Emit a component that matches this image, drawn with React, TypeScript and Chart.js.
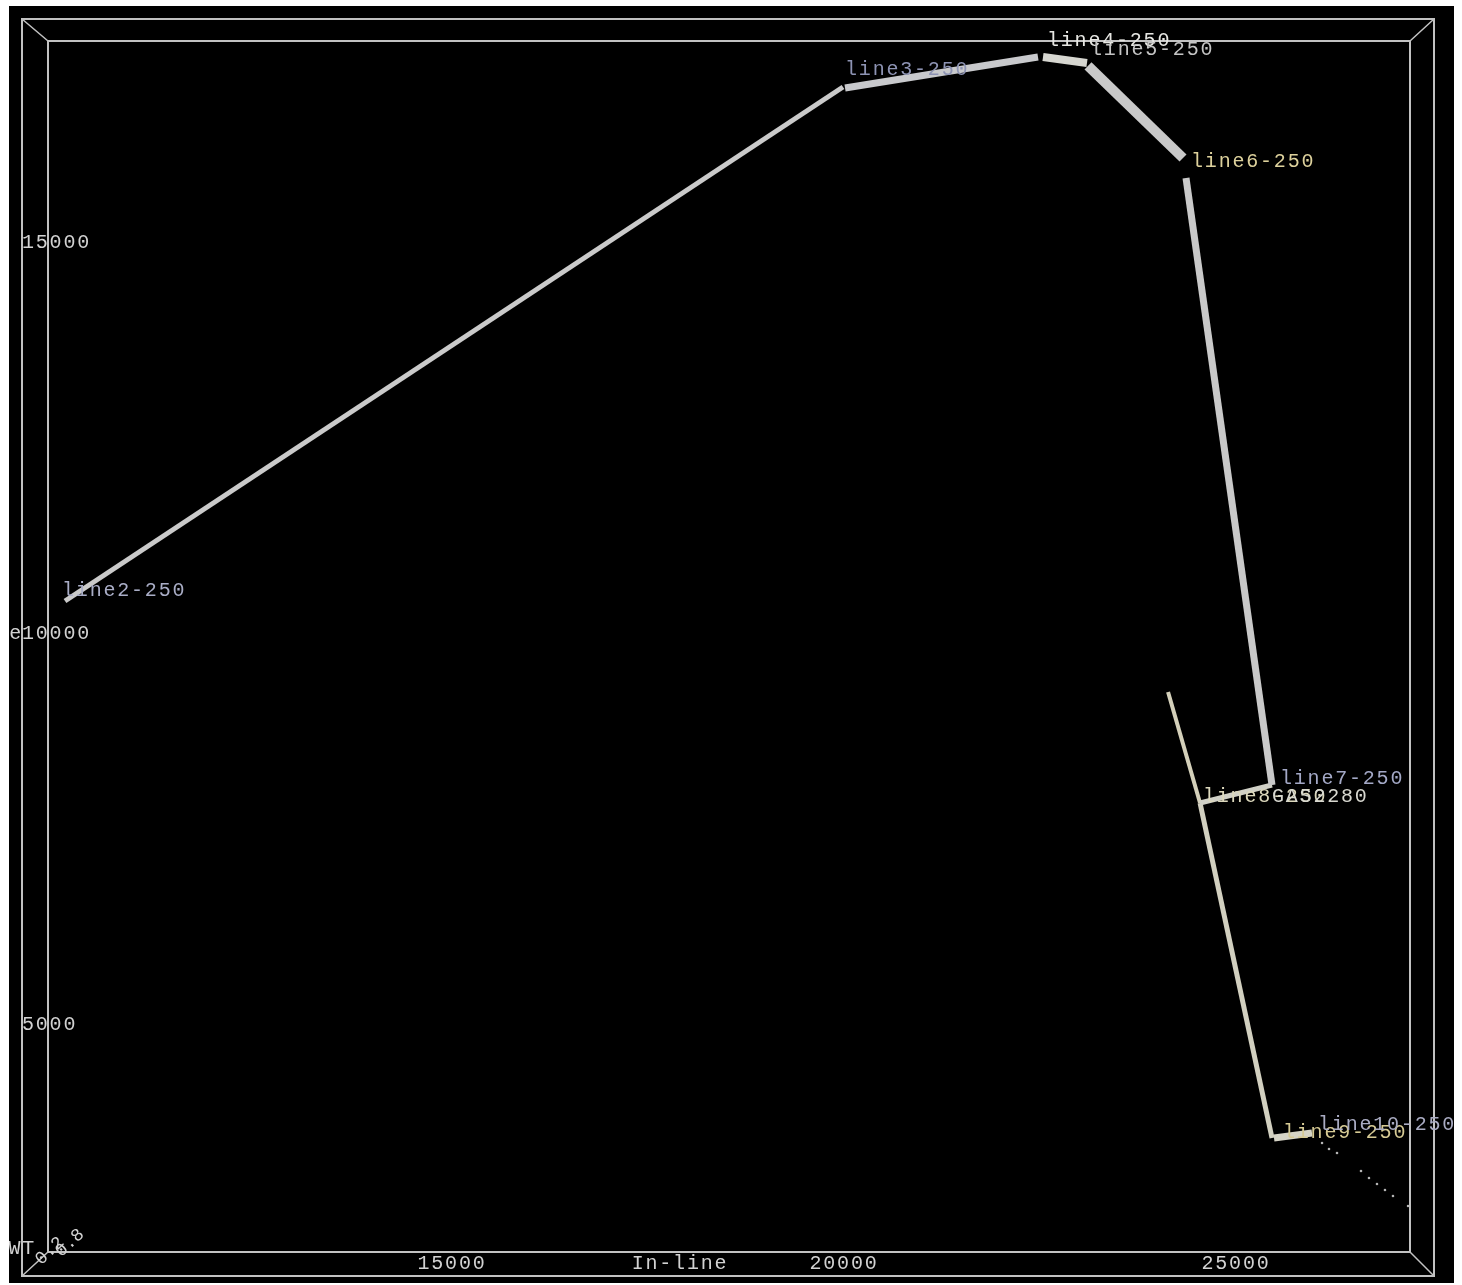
import React, { useEffect, useRef } from "react";
import { Chart, registerables } from "chart.js";

Chart.register(...registerables);

// ---- axes ----
const X_TICKS = [15000, 20000, 25000];
const Y_TICKS = [5000, 10000, 15000];
const X_MIN = 9847;
const X_MAX = 27219;
const Y_MIN = 2097;
const Y_MAX = 17583;
const X_TITLE = "In-line";
const X_TITLE_AT = 17908;
const Y_TITLE = "Cross-line";
const Z_TITLE = "TWT";
const Z_TICKS = ["0.2", "0.8"];

// ---- track segments (in-line, cross-line) ----
const line2X = [10064, 19987];
const line2Y = [10422, 16995];
const line3X = [20013, 22474];
const line3Y = [16982, 17379];
const line4X = [22538, 23099];
const line4Y = [17379, 17302];
const line5X = [23112, 24324];
const line5Y = [17264, 16087];
const line6X = [24362, 25459];
const line6Y = [15831, 8069];
const line7X = [25459, 24541];
const line7Y = [8069, 7839];
const gasX = [24133, 24541];
const gasY = [9258, 7839];
const line8X = [24541, 25459];
const line8Y = [7839, 3555];
const line9X = [25484, 25969];
const line9Y = [3555, 3619];
// line10: sparse dotted samples
const line10X = [26097, 26186, 26288, 26594, 26696, 26798, 26900, 27002, 27194, 27296];
const line10Y = [3491, 3414, 3363, 3133, 3043, 2966, 2890, 2813, 2685, 2596];

// ---- labels ----
const LABEL_TEXT = [
  "line2-250",
  "line3-250",
  "line4-250",
  "line5-250",
  "line6-250",
  "line7-250",
  "line8-250",
  "GAS2280",
  "line9-250",
  "line10-250",
];
const LABEL_X = [10026, 20013, 22589, 23138, 24426, 25561, 24579, 25459, 25599, 26046];
const LABEL_Y = [10550, 17212, 17583, 17468, 16036, 8146, 7915, 7915, 3619, 3721];
const LABEL_COLOR = [
  "#a9adc6",
  "#8d93b3",
  "#e6e6e2",
  "#c4c4c4",
  "#ddd19c",
  "#a3a8c6",
  "#dcd8bc",
  "#d8d8d0",
  "#d6ca94",
  "#a9abc2",
];

const FONT_FAMILY = '"Liberation Mono", "DejaVu Sans Mono", monospace';
const TEXT_COLOR = "#d2d2d2";
const FRAME_COLOR = "#c2c2c2";
const SPACING = "1.8px";

function pts(xs: number[], ys: number[]) {
  return xs.map((x, i) => ({ x, y: ys[i] }));
}

const framePlugin = {
  id: "frame3d",
  beforeDraw(chart: any) {
    chart.ctx.letterSpacing = SPACING;
  },
  beforeDatasetsDraw(chart: any) {
    const { ctx, chartArea } = chart;
    const { left, top, right, bottom } = chartArea;
    const oL = left - 26;
    const oT = top - 22;
    const oR = right + 24;
    const oB = bottom + 24;
    ctx.save();
    ctx.strokeStyle = FRAME_COLOR;
    ctx.lineWidth = 2;
    ctx.strokeRect(left, top, right - left, bottom - top);
    ctx.strokeRect(oL, oT, oR - oL, oB - oT);
    ctx.lineWidth = 1.5;
    ctx.beginPath();
    ctx.moveTo(oL, oT);
    ctx.lineTo(left, top);
    ctx.moveTo(oR, oT);
    ctx.lineTo(right, top);
    ctx.moveTo(oR, oB);
    ctx.lineTo(right, bottom);
    ctx.moveTo(oL, oB);
    ctx.lineTo(left, bottom);
    ctx.stroke();
    ctx.restore();
  },
  afterDatasetsDraw(chart: any) {
    const { ctx, scales } = chart;
    const xs = scales.x;
    const ys = scales.y;
    ctx.save();
    ctx.letterSpacing = SPACING;
    ctx.font = `20px ${FONT_FAMILY}`;
    ctx.textBaseline = "middle";
    ctx.textAlign = "left";
    LABEL_TEXT.forEach((t, i) => {
      ctx.fillStyle = LABEL_COLOR[i];
      ctx.fillText(t, xs.getPixelForValue(LABEL_X[i]), ys.getPixelForValue(LABEL_Y[i]));
    });

    // axis titles
    ctx.fillStyle = TEXT_COLOR;
    ctx.textAlign = "center";
    ctx.fillText(X_TITLE, xs.getPixelForValue(X_TITLE_AT), xs.top + 12);
    ctx.textAlign = "right";
    ctx.fillText(Y_TITLE, 14, ys.getPixelForValue(10000));

    // depth axis (seen end-on in the corner)
    const cl = chart.chartArea.left;
    const cb = chart.chartArea.bottom;
    ctx.fillText(Z_TITLE, cl - 12, cb - 3);
    ctx.font = `18px ${FONT_FAMILY}`;
    ctx.letterSpacing = "0px";
    ctx.textAlign = "left";
    ctx.save();
    ctx.translate(cl - 10, cb + 10);
    ctx.rotate(-0.75);
    ctx.fillText(Z_TICKS[0], 0, 0);
    ctx.restore();
    ctx.save();
    ctx.translate(cl + 10, cb + 2);
    ctx.rotate(-0.75);
    ctx.fillText(Z_TICKS[1], 0, 0);
    ctx.restore();
    ctx.restore();
  },
};

export default function App() {
  const ref = useRef<HTMLCanvasElement | null>(null);

  useEffect(() => {
    if (!ref.current) return;
    const seg = (xs: number[], ys: number[], color: string, width: number) => ({
      data: pts(xs, ys),
      showLine: true,
      borderColor: color,
      backgroundColor: color,
      borderWidth: width,
      pointRadius: 0,
      borderCapStyle: "butt",
      borderJoinStyle: "miter",
      tension: 0,
    });
    const chart = new Chart(ref.current, {
      type: "scatter",
      data: {
        datasets: [
          seg(line2X, line2Y, "#cacaca", 5),
          seg(line3X, line3Y, "#c8c9cc", 7),
          seg(line4X, line4Y, "#d6d6d0", 8),
          seg(line5X, line5Y, "#c9c9c9", 10),
          seg(line6X, line6Y, "#c9c9c9", 7),
          seg(line7X, line7Y, "#d0d0c6", 5),
          seg(gasX, gasY, "#d4d0ba", 4),
          seg(line8X, line8Y, "#d2d0c0", 5),
          seg(line9X, line9Y, "#d6d4c6", 7),
          {
            data: pts(line10X, line10Y),
            showLine: false,
            pointRadius: 1.3,
            pointBorderWidth: 0,
            backgroundColor: "#b4b4b4",
            borderColor: "#b4b4b4",
          },
        ] as any,
      },
      options: {
        animation: false,
        responsive: false,
        maintainAspectRatio: false,
        layout: { padding: { left: 13, top: 35, right: 44, bottom: 0 } },
        plugins: {
          legend: { display: false },
          tooltip: { enabled: false },
        },
        scales: {
          x: {
            type: "linear",
            position: "bottom",
            min: X_MIN,
            max: X_MAX,
            grid: { display: false, drawTicks: false },
            border: { display: false },
            afterBuildTicks: (s: any) => {
              s.ticks = X_TICKS.map((v) => ({ value: v }));
            },
            afterFit: (s: any) => {
              s.height = 31;
            },
            ticks: {
              color: TEXT_COLOR,
              padding: 0,
              maxRotation: 0,
              autoSkip: false,
              font: { family: FONT_FAMILY, size: 20 },
              callback: (v: any) => String(v),
            },
          },
          y: {
            type: "linear",
            position: "left",
            min: Y_MIN,
            max: Y_MAX,
            grid: { display: false, drawTicks: false },
            border: { display: false },
            afterBuildTicks: (s: any) => {
              s.ticks = Y_TICKS.map((v) => ({ value: v }));
            },
            afterFit: (s: any) => {
              s.width = 26;
            },
            ticks: {
              color: TEXT_COLOR,
              mirror: true,
              padding: -26,
              crossAlign: "near",
              autoSkip: false,
              font: { family: FONT_FAMILY, size: 20 },
              callback: (v: any) => String(v),
            },
          },
        },
      } as any,
      plugins: [framePlugin],
    });
    return () => chart.destroy();
  }, []);

  return (
    <div
      style={{
        position: "absolute",
        left: 9,
        top: 6,
        width: 1445,
        height: 1277,
        background: "#000",
        overflow: "hidden",
      }}
    >
      <canvas ref={ref} width={1445} height={1277} style={{ display: "block" }} />
    </div>
  );
}
